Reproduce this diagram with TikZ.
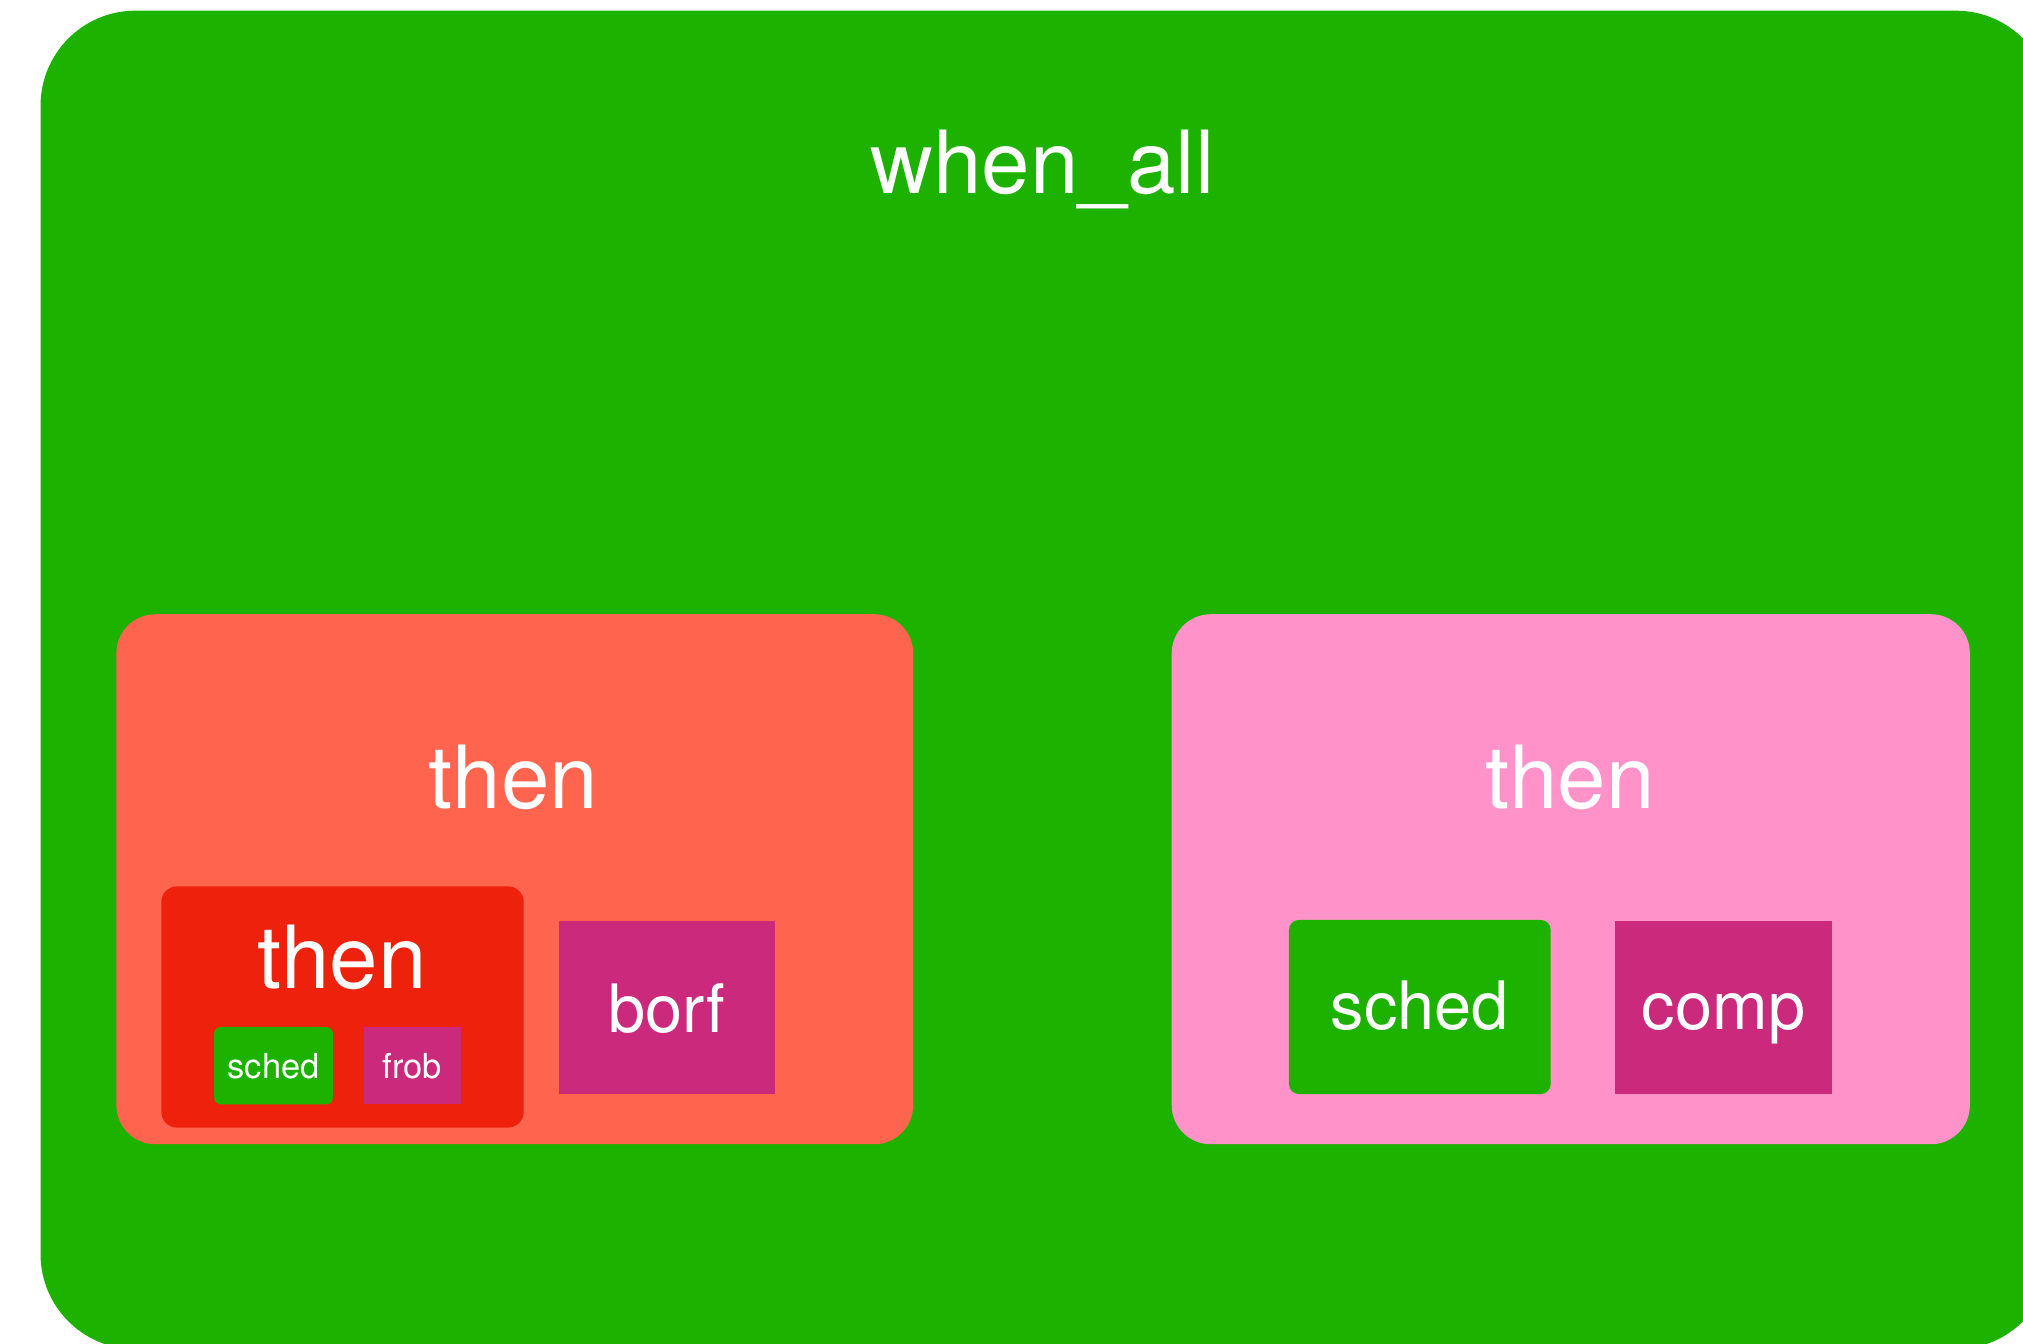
\documentclass[tikz,border=0pt]{standalone}
\usepackage{fontspec}
\setmainfont{TeX Gyre Heros}
\definecolor{kgreen}{HTML}{1DB100}
\definecolor{ktomato}{HTML}{FF644E}
\definecolor{kred}{HTML}{EE220C}
\definecolor{kmag}{HTML}{CB297B}
\definecolor{kpink}{HTML}{FF93C9}
\tikzset{
  box/.style={inner sep=0pt, outer sep=0pt, draw=none},
  lbl/.style={text=white, anchor=base, inner sep=0pt},
  big/.style={lbl, font=\fontsize{24.8}{28}\selectfont},
  mid/.style={lbl, font=\fontsize{19}{22}\selectfont},
  sml/.style={lbl, font=\fontsize{9.8}{12}\selectfont},
}
\begin{document}
\begin{tikzpicture}[x=0.012902cm, y=-0.012902cm]
\useasboundingbox (0,0) rectangle (1568,1041);
\clip (0,0) rectangle (1568,1041);
\fill[white] (0,0) rectangle (1568,1041);
% outer when_all
\node[box, fill=kgreen, rounded corners=0.95cm, minimum width=20.114cm, minimum height=13.392cm] (whenall) at (810.5,527) {};
\node[big] (whenalllbl) at (808,150) {when\_all};
% left then
\node[box, fill=ktomato, rounded corners=0.39cm, minimum width=7.973cm, minimum height=5.303cm] (thenL) at (399,681.5) {};
\node[big] (thenLlbl) at (398,627) {then};
\node[box, fill=kred, rounded corners=0.155cm, minimum width=3.625cm, minimum height=2.413cm] (thenI) at (265.5,780.5) {};
\node[big] (thenIlbl) at (265,766) {then};
\node[box, fill=kgreen, rounded corners=0.065cm, minimum width=1.187cm, minimum height=0.774cm] (schedS) at (212,826) {};
\node[sml] (schedSlbl) at (212,836) {sched};
\node[box, fill=kmag, minimum width=0.968cm, minimum height=0.774cm] (frob) at (319.5,826) {};
\node[sml] (froblbl) at (319.5,836) {frob};
\node[box, fill=kmag, minimum width=2.168cm, minimum height=1.729cm] (borf) at (517,781) {};
\node[mid] (borflbl) at (517,800) {borf};
% right then
\node[box, fill=kpink, rounded corners=0.39cm, minimum width=7.986cm, minimum height=5.303cm] (thenR) at (1217.5,681.5) {};
\node[big] (thenRlbl) at (1217,627) {then};
\node[box, fill=kgreen, rounded corners=0.1cm, minimum width=2.619cm, minimum height=1.742cm] (schedB) at (1100.5,780.5) {};
\node[mid] (schedBlbl) at (1100.5,798) {sched};
\node[box, fill=kmag, minimum width=2.168cm, minimum height=1.729cm] (comp) at (1336,781) {};
\node[mid] (complbl) at (1336,798) {comp};
\end{tikzpicture}
\end{document}
